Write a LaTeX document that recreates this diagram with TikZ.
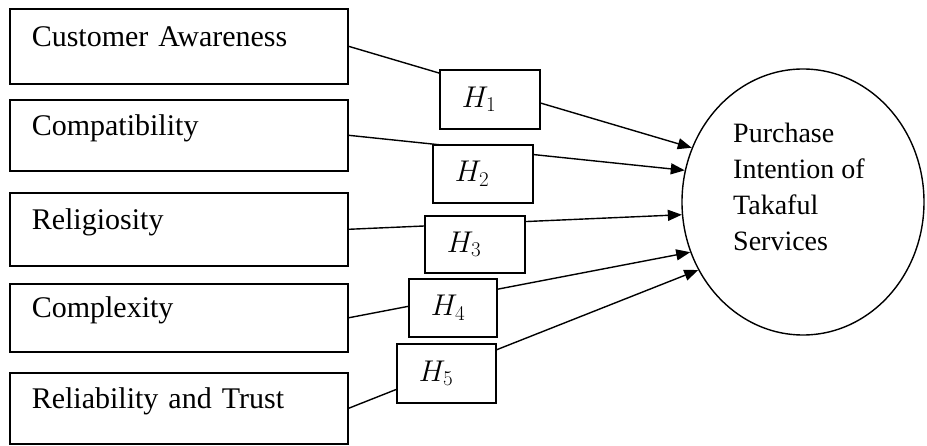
\RequirePackage{fix-cm}
\documentclass[tikz,border=0pt]{standalone}
\usepackage{fontspec}
\setmainfont{Liberation Serif}
\usepackage{tikz}
\usetikzlibrary{positioning,arrows.meta,shapes.geometric}

\begin{document}
\begin{tikzpicture}[x=1pt,y=-1pt,
  fac/.style={draw,line width=1.6pt,anchor=north west,text width=294pt,inner xsep=22pt,inner ysep=0pt,align=left,font=\fontsize{30}{36}\selectfont,text height=21pt,text depth=21pt},
  hyp/.style={draw,line width=1.6pt,fill=white,anchor=north west,text width=56pt,inner xsep=22pt,inner ysep=0pt,align=left,font=\fontsize{30}{36}\selectfont},
  link/.style={line width=1.4pt,-{Triangle[length=14pt,width=11pt]}}
]
\useasboundingbox (0,0) rectangle (927,446);
\node[fac,minimum height=75pt] (aware) at (9,8) {Customer Awareness};
\node[fac,minimum height=71pt] (compat) at (9,99) {Compatibility};
\node[fac,minimum height=73pt] (relig) at (9,192) {Religiosity};
\node[fac,minimum height=68pt] (complex) at (9,283) {Complexity};
\node[fac,minimum height=71pt] (trust) at (9,372) {Reliability and Trust};
\node[draw,ellipse,line width=1.4pt,minimum width=242pt,minimum height=266pt,inner sep=0pt] (purchase) at (803,202) {};
\node[anchor=north west,inner sep=0pt,align=left,font=\fontsize{28}{36}\selectfont] (purchasetxt) at (733,123) {Purchase\\Intention of\\Takaful\\Services};
\draw[link] (aware.east) -- (purchase.154);
\draw[link] (compat.east) -- (purchase.165);
\draw[link] (relig.east) -- (purchase.186);
\draw[link] (complex.east) -- (purchase.204);
\draw[link] (trust.east) -- (purchase.213);
\node[hyp,minimum height=59pt] (h1) at (439,69) {$H_1$};
\node[hyp,minimum height=58pt] (h2) at (432,144) {$H_2$};
\node[hyp,minimum height=57pt] (h3) at (424,215) {$H_3$};
\node[hyp,minimum height=58pt,text width=44pt] (h4) at (408,278) {$H_4$};
\node[hyp,minimum height=59pt,text width=55pt] (h5) at (396,343) {$H_5$};
\end{tikzpicture}
\end{document}
